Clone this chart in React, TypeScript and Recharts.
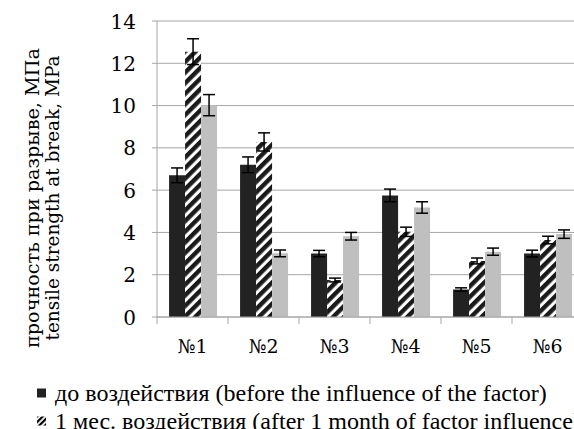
import React from 'react';
import { BarChart, Bar, XAxis, YAxis, CartesianGrid, ErrorBar, Legend } from 'recharts';

const categories = ['№1', '№2', '№3', '№4', '№5', '№6'];
const beforeValues = [6.7, 7.2, 3.0, 5.75, 1.3, 3.0];
const beforeErrors = [0.35, 0.37, 0.15, 0.3, 0.08, 0.16];
const month1Values = [12.55, 8.28, 1.75, 4.03, 2.65, 3.64];
const month1Errors = [0.61, 0.43, 0.09, 0.22, 0.14, 0.18];
const laterValues = [10.02, 3.01, 3.82, 5.18, 3.09, 3.92];
const laterErrors = [0.5, 0.16, 0.18, 0.27, 0.17, 0.2];
const yTicks = [0, 2, 4, 6, 8, 10, 12, 14];
const yLabelLines = ['прочность при разрыве, МПа', 'tensile strength at break, MPa'];
const legendLabels = [
  'до воздействия (before the influence of the factor)',
  '1 мес. воздействия (after 1 month of factor influence)',
];

const data = categories.map((c, i) => ({
  cat: c,
  before: beforeValues[i],
  beforeErr: beforeErrors[i],
  month1: month1Values[i],
  month1Err: month1Errors[i],
  later: laterValues[i],
  laterErr: laterErrors[i],
}));

const SVG_FONT = 'DejaVu Serif';
const HTML_FONT = 'Liberation Serif';
const GRID = '#a6a6a6';
const DARK = '#222222';
const LIGHT = '#bfbfbf';

const XTick = (props: any) => {
  const { x, y, payload, index, visibleTicksCount } = props;
  const half = payload && typeof payload.offset === 'number' ? payload.offset : 35.5;
  const isLast = index === (visibleTicksCount ?? categories.length) - 1;
  return (
    <g>
      <line x1={x - half} x2={x - half} y1={y} y2={y + 7} stroke={GRID} />
      {isLast && <line x1={x + half} x2={x + half} y1={y} y2={y + 7} stroke={GRID} />}
      <text x={x} y={y + 36} textAnchor="middle" fontSize={19} fontFamily={SVG_FONT} fill="#000">
        {payload.value}
      </text>
    </g>
  );
};

const YTick = (props: any) => {
  const { x, y, payload } = props;
  return (
    <text x={x} y={y + 7.5} textAnchor="end" fontSize={20} fontFamily={SVG_FONT} fill="#000">
      {payload.value}
    </text>
  );
};

const YLabel = () => (
  <g fontFamily={SVG_FONT} fontSize={19} fill="#000">
    <text
      transform="translate(32,198) rotate(-90)"
      textAnchor="middle"
      dominantBaseline="central"
      textLength={300}
      lengthAdjust="spacingAndGlyphs"
    >
      {yLabelLines[0]}
    </text>
    <text
      transform="translate(52,198) rotate(-90)"
      textAnchor="middle"
      dominantBaseline="central"
      textLength={285}
      lengthAdjust="spacingAndGlyphs"
    >
      {yLabelLines[1]}
    </text>
  </g>
);

const renderLegend = () => (
  <div style={{ fontFamily: HTML_FONT, fontSize: 24, color: '#000', whiteSpace: 'nowrap' }}>
    {legendLabels.map((label, i) => (
      <div key={i} style={{ height: 28, display: 'flex', alignItems: 'center' }}>
        <svg width={18} height={12}>
          <rect x={0} y={1.5} width={9} height={9} fill={i === 0 ? DARK : 'url(#hatchLegend)'} />
        </svg>
        <span>{label}</span>
      </div>
    ))}
  </div>
);

export default function App() {
  return (
    <div style={{ position: 'absolute', left: 0, top: 0, width: 574, height: 429, overflow: 'hidden', background: '#fff' }}>
      <svg width={0} height={0} style={{ position: 'absolute' }}>
        <defs>
          <pattern id="hatchLegend" patternUnits="userSpaceOnUse" width={4} height={4} patternTransform="rotate(45)">
            <rect x={0} y={0} width={4} height={4} fill="#fff" />
            <rect x={0} y={0} width={2.2} height={4} fill="#000" />
          </pattern>
        </defs>
      </svg>
      <BarChart
        width={600}
        height={429}
        data={data}
        margin={{ top: 21, right: 17, left: 0, bottom: 82 }}
        barCategoryGap="17%"
        barGap={0}
      >
        <defs>
          <pattern id="hatch" patternUnits="userSpaceOnUse" width={7.5} height={7.5} patternTransform="rotate(45)">
            <rect x={0} y={0} width={7.5} height={7.5} fill="#fff" />
            <rect x={0} y={0} width={4.4} height={7.5} fill="#1a1a1a" />
          </pattern>
        </defs>
        <CartesianGrid vertical={false} stroke={GRID} />
        <XAxis
          dataKey="cat"
          height={30}
          interval={0}
          tickLine={false}
          tickSize={0}
          tickMargin={0}
          axisLine={{ stroke: GRID }}
          tick={<XTick />}
        />
        <YAxis
          width={157}
          domain={[0, 14]}
          ticks={yTicks}
          interval={0}
          tickSize={5}
          tickMargin={16}
          axisLine={{ stroke: GRID }}
          tickLine={{ stroke: GRID }}
          tick={<YTick />}
        />
        <Legend
          layout="horizontal"
          verticalAlign="middle"
          align="center"
          content={renderLegend}
          wrapperStyle={{ position: 'absolute', left: 37, top: 379, width: 800 }}
        />
        <Bar dataKey="before" name="до воздействия" fill={DARK} isAnimationActive={false}>
          <ErrorBar dataKey="beforeErr" width={6} stroke="#000" strokeWidth={1.5} direction="y" />
        </Bar>
        <Bar dataKey="month1" name="1 мес. воздействия" fill="url(#hatch)" isAnimationActive={false}>
          <ErrorBar dataKey="month1Err" width={6} stroke="#000" strokeWidth={1.5} direction="y" />
        </Bar>
        <Bar dataKey="later" name="later" fill={LIGHT} isAnimationActive={false}>
          <ErrorBar dataKey="laterErr" width={6} stroke="#000" strokeWidth={1.5} direction="y" />
        </Bar>
        <YLabel />
      </BarChart>
    </div>
  );
}
